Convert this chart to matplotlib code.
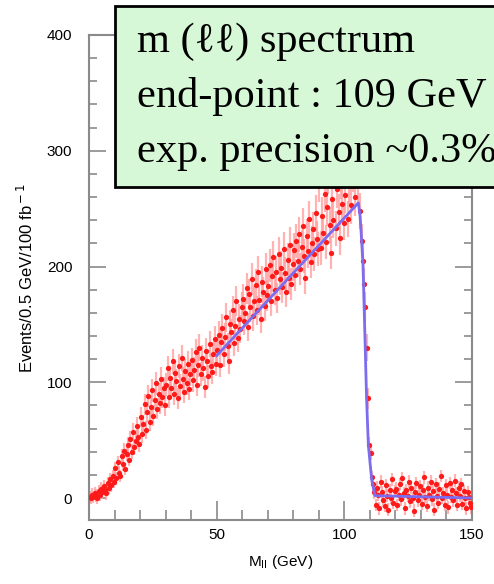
import numpy as np
import matplotlib
matplotlib.use("Agg")
import matplotlib.pyplot as plt
from matplotlib.patches import Rectangle
from matplotlib.ticker import MultipleLocator

# events per 0.5 GeV bin (bins 0.25 .. 149.75)
bin_centers = np.arange(0.25, 150, 0.5)
counts = [
    1, 0, 3, 1, 4, 2, 0, 6, 3, 8, 5, 10, 7, 4, 13, 9, 16, 11, 19, 14,
    26, 17, 31, 22, 19, 36, 29, 41, 25, 38, 46, 33, 51, 40, 57, 44, 49, 62, 53, 47,
    70, 55, 64, 81, 59, 74, 88, 66, 79, 93, 71, 85, 99, 77, 90, 82, 103, 87, 95, 80,
    98, 112, 87, 104, 95, 118, 90, 108, 101, 86, 114, 97, 121, 103, 92, 110, 99, 116, 94, 107,
    119, 102, 111, 126, 98, 115, 130, 107, 121, 112, 96, 127, 118, 105, 133, 114, 109, 124, 137, 116,
    128, 141, 115, 135, 147, 124, 139, 156, 131, 118, 150, 143, 162, 134, 149, 170, 138, 155, 146, 165,
    172, 153, 160, 181, 148, 176, 165, 189, 157, 170, 184, 162, 195, 171, 155, 187, 178, 166, 198, 175,
    183, 201, 170, 192, 208, 180, 195, 173, 211, 189, 199, 182, 215, 194, 178, 206, 190, 219, 185, 202,
    214, 193, 222, 205, 228, 198, 217, 235, 209, 190, 226, 213, 241, 204, 220, 232, 211, 246, 224, 215,
    272, 216, 244, 229, 263, 221, 251, 279, 236, 212, 258, 240, 284, 233, 267, 247, 225, 275, 254, 238,
    262, 289, 241, 270, 298, 253, 281, 305, 260, 287, 272, 296, 248, 222, 205, 185, 165, 130, 86, 46,
    39, 18, 12, 5, -6, 9, 3, -9, 14, 5, -2, -7, 11, 2, -10, 7, 0, 16, -4, 6,
    8, -6, 3, 12, -1, 17, 4, -9, 7, 2, 14, -3, 9, 0, -11, 5, 13, -2, 3, 10,
    -5, 7, 18, 1, -7, 9, 3, 14, -1, 6, -10, 12, 2, -4, 8, 19, 0, 4, -6, 11,
    3, -8, 13, 1, 7, -2, 15, 4, -6, 9, 2, 12, -5, 6, 0, -9, 5, 1, -4, -8,
]
counts = np.array(counts, dtype=float)
errors = np.sqrt(np.maximum(counts, 30))

# fitted edge function (blue line)
fit_x = [50, 105.5, 106.2, 107.3, 108.7, 109.4, 110.7, 112, 150]
fit_y = [123, 255, 243, 203, 87, 46, 16, 2, 0]

box_lines = ["m (\u2113\u2113) spectrum", "end-point : 109 GeV", "exp. precision ~0.3%"]

W, H = 494, 584
fig = plt.figure(figsize=(W / 100, H / 100), dpi=100)
ax = fig.add_axes([89 / W, 1 - 520 / H, (472 - 89) / W, (520 - 35) / H])

ax.errorbar(bin_centers, counts, yerr=errors, fmt="none", ecolor="#ffa0a0",
            elinewidth=1.6, alpha=0.8, zorder=2)
ax.plot(bin_centers, counts, "o", color="#ff1a1a", ms=3.8, mew=0, zorder=3)
ax.plot(fit_x, fit_y, color="#7b6cf0", lw=2, zorder=4)

ax.set_xlim(0, 150)
ax.set_ylim(-19, 400)
ax.xaxis.set_major_locator(MultipleLocator(50))
ax.xaxis.set_minor_locator(MultipleLocator(10))
ax.yaxis.set_major_locator(MultipleLocator(100))
ax.yaxis.set_minor_locator(MultipleLocator(20))

grey = "#8a8a8a"
for s in ax.spines.values():
    s.set_color(grey)
    s.set_linewidth(1.5)
ax.tick_params(which="both", direction="in", color=grey, width=1.2,
               right=True, top=False, labelsize=11)
ax.tick_params(axis="x", which="major", length=14, pad=6)
ax.tick_params(axis="x", which="minor", length=7)
ax.tick_params(axis="y", which="major", length=12, pad=12)
ax.tick_params(axis="y", which="minor", length=6)
for lab in ax.get_xticklabels() + ax.get_yticklabels():
    lab.set_family("Liberation Sans")

plt.rcParams["mathtext.fontset"] = "custom"
plt.rcParams["mathtext.rm"] = "Liberation Sans"
ax.set_xlabel(r"M$_{\rm ll}$ (GeV)", family="Liberation Sans", fontsize=11, labelpad=8)
ax.set_ylabel(r"Events/0.5 GeV/100 fb$^{\rm -1}$", family="Liberation Sans",
              fontsize=12, labelpad=8)

# green caption box, running off the right edge
fig.patches.append(Rectangle((115 / W, 1 - 187 / H), 1.0, 181 / H,
                             transform=fig.transFigure, facecolor="#d6f8d6",
                             edgecolor="black", lw=2, zorder=10))
for i, line in enumerate(box_lines):
    fig.text(137 / W, 1 - (52 + i * 55) / H, line, fontsize=30.5,
             family=["Liberation Serif", "DejaVu Serif"], va="baseline",
             zorder=11)

fig.savefig("out.png", dpi=100)
